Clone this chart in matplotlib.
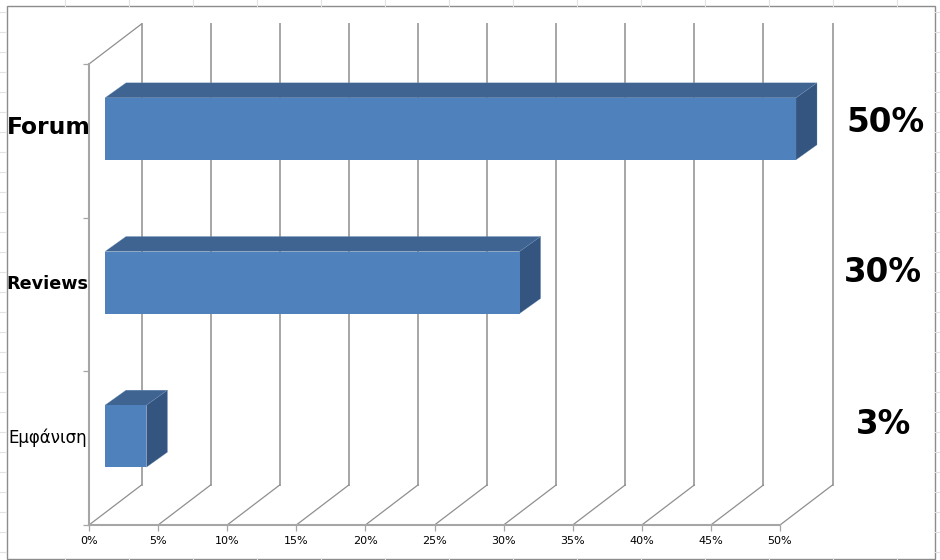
import matplotlib
matplotlib.use("Agg")
import matplotlib.pyplot as plt
from matplotlib.lines import Line2D
from matplotlib.patches import Rectangle

categories = ["Εμφάνιση", "Reviews", "Forum"]
values = [3, 30, 50]
ticks = [0, 5, 10, 15, 20, 25, 30, 35, 40, 45, 50]

W, H = 940, 560
fig = plt.figure(figsize=(W / 100, H / 100), dpi=100, facecolor="white")
plt.rcParams["font.family"] = "DejaVu Sans"

# spreadsheet grid and frame behind the chart
for x in [65, 129, 193, 257, 321, 385, 449, 513, 577, 641, 705, 769, 833, 897]:
    fig.add_artist(Line2D([x / W, x / W], [1 - 6 / H, 1], color="#e2e2e2", lw=0.8))
    fig.add_artist(Line2D([x / W, x / W], [0, 1 / H], color="#e2e2e2", lw=0.8))
for y in range(12, 560, 20):
    fig.add_artist(Line2D([0, 6 / W], [1 - y / H, 1 - y / H], color="#e2e2e2", lw=0.8))
    fig.add_artist(Line2D([935 / W, 1], [1 - y / H, 1 - y / H], color="#e2e2e2", lw=0.8))
fig.add_artist(Rectangle((6.5 / W, 1 - 559 / H), 928.5 / W, 553 / H, fill=False,
                         edgecolor="#8c8c8c", lw=1.0, transform=fig.transFigure))

ax = fig.add_axes([89 / W, 1 - 525 / H, 691 / W, 461 / H])
ax.set_xlim(0, 50)
ax.set_ylim(0, 3)
ax.patch.set_alpha(0)
px_x = 691 / 50
px_y = 461 / 3
wall_dx, wall_dy = 52.5 / px_x, 40 / px_y
off_dx, off_dy = 16 / px_x, 12 / px_y
bar_dx, bar_dy = 21 / px_x, 15 / px_y
bar_h = 62 / px_y

GRID = "#a6a6a6"
DIAG = "#8f8f8f"
for t in ticks:
    ax.plot([t + wall_dx] * 2, [wall_dy, 3 + wall_dy], color=GRID, lw=1.4, clip_on=False, zorder=1)
    ax.plot([t, t + wall_dx], [0, wall_dy], color=DIAG, lw=0.9, clip_on=False, zorder=1)
ax.plot([0, wall_dx], [3, 3 + wall_dy], color=DIAG, lw=0.9, clip_on=False, zorder=1)

FRONT, TOP, SIDE = "#4f81bd", "#3f6492", "#34557f"
for i, v in enumerate(values):
    y0 = i + 0.5 + off_dy - bar_h / 2
    y1 = y0 + bar_h
    x0 = off_dx
    x1 = off_dx + v
    ax.fill([x0, x0 + bar_dx, x1 + bar_dx, x1], [y1, y1 + bar_dy, y1 + bar_dy, y1],
            facecolor=TOP, edgecolor="#6f93bd", linewidth=0.2, clip_on=False, zorder=3)
    ax.fill([x1, x1 + bar_dx, x1 + bar_dx, x1], [y0, y0 + bar_dy, y1 + bar_dy, y1],
            facecolor=SIDE, edgecolor="#6f93bd", linewidth=0.2, clip_on=False, zorder=3)
    ax.barh(i + 0.5 + off_dy, v, height=bar_h, left=x0, color=FRONT, edgecolor=FRONT,
            linewidth=0, clip_on=False, zorder=4)

for s in ["top", "right"]:
    ax.spines[s].set_visible(False)
for s in ["left", "bottom"]:
    ax.spines[s].set_color(GRID)
    ax.spines[s].set_linewidth(1.5)
ax.set_xticks(ticks)
ax.set_xticklabels([f"{t}%" for t in ticks], fontsize=8, color="black")
ax.set_yticks([0, 1, 2, 3])
ax.set_yticklabels([])
ax.tick_params(axis="both", length=4, width=0.9, color=GRID, pad=4)

# category labels and value labels
label_sizes = [12.0, 12.7, 16.8]
label_weights = ["normal", "bold", "bold"]
label_y = [438, 284, 128]
label_x = [47.5, 47.5, 49]
for c, s, w, y, x in zip(categories, label_sizes, label_weights, label_y, label_x):
    fig.text(x / W, 1 - y / H, c, fontsize=s, fontweight=w, ha="center", va="center", color="black")

value_pos = [(884, 424), (883, 273), (885.5, 122)]
for v, (x, y) in zip(values, value_pos):
    fig.text(x / W, 1 - y / H, f"{v}%", fontsize=23.5, fontweight="bold", ha="center", va="center", color="black")

fig.savefig("out.png", dpi=100)
